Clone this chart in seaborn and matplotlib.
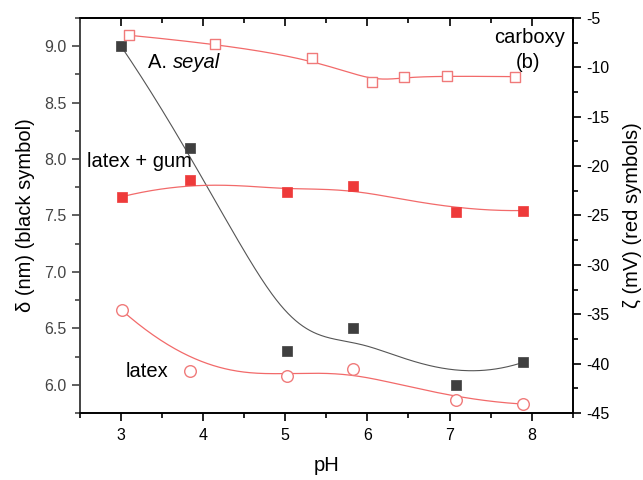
import numpy as np
import matplotlib
matplotlib.use("Agg")
import matplotlib.pyplot as plt
import seaborn as sns
from matplotlib.ticker import MultipleLocator

sns.set_style("ticks")
plt.rcParams['font.family'] = ['Liberation Sans', 'DejaVu Sans']
plt.rcParams['axes.unicode_minus'] = False
plt.rcParams['text.color'] = 'black'
plt.rcParams['axes.labelcolor'] = 'black'

# ---- data ----
ph_black = [3.0, 3.84, 5.02, 5.82, 7.08, 7.90]
delta_nm = [9.0, 8.10, 6.30, 6.50, 6.00, 6.20]

ph_gum = [3.01, 3.84, 5.02, 5.82, 7.08, 7.90]
zeta_gum = [-23.1, -21.4, -22.6, -22.0, -24.6, -24.5]

ph_latex = [3.01, 3.84, 5.02, 5.82, 7.08, 7.90]
zeta_latex = [-34.6, -40.7, -41.3, -40.5, -43.7, -44.1]

ph_carb = [3.10, 4.15, 5.32, 6.06, 6.45, 6.97, 7.80]
zeta_carb = [-6.75, -7.6, -9.05, -11.5, -10.97, -10.87, -10.94]


def bspline(xs, ys, n=300, k=3):
    P = np.column_stack([xs, ys]).astype(float)
    m = len(P)
    kk = min(k, m - 1)
    inner = np.arange(1, m - kk)
    knots = np.concatenate([np.zeros(kk + 1), inner, np.full(kk + 1, m - kk)]).astype(float)
    ts = np.linspace(0, m - kk, n)
    out = []
    for t in ts:
        t = min(t, knots[-1] - 1e-9)
        N = np.array([1.0 if knots[i] <= t < knots[i + 1] else 0.0 for i in range(len(knots) - 1)])
        for d in range(1, kk + 1):
            Nn = np.zeros(len(knots) - 1 - d)
            for i in range(len(Nn)):
                a = 0.0
                if knots[i + d] != knots[i]:
                    a = (t - knots[i]) / (knots[i + d] - knots[i]) * N[i]
                b = 0.0
                if knots[i + d + 1] != knots[i + 1]:
                    b = (knots[i + d + 1] - t) / (knots[i + d + 1] - knots[i + 1]) * N[i + 1]
                Nn[i] = a + b
            N = Nn
        out.append(N @ P)
    out = np.array(out)
    return out[:, 0], out[:, 1]


fig = plt.figure(figsize=(6.43, 4.8), dpi=100)
ax = fig.add_axes([0.1244, 0.1396, 0.7663, 0.8229])
ax2 = ax.twinx()

black = '#3f3f3f'
red_fill = '#ee3a3a'
red_line = '#f26a6a'
red_open = '#f07a7a'

# black series (left axis)
bx, by = bspline(ph_black, delta_nm)
sns.lineplot(x=bx, y=by, ax=ax, color='#555555', lw=0.8, sort=False, estimator=None)
sns.scatterplot(x=ph_black, y=delta_nm, ax=ax, marker='s', s=50, color=black, edgecolor=black, linewidth=0.5, zorder=5)

# red series (right axis)
for xs, ys, filled, mk in [(ph_gum, zeta_gum, True, 's'),
                           (ph_latex, zeta_latex, False, 'o'),
                           (ph_carb, zeta_carb, False, 's')]:
    cx, cy = bspline(xs, ys)
    sns.lineplot(x=cx, y=cy, ax=ax2, color=red_line, lw=0.9, sort=False, estimator=None)
    if filled:
        sns.scatterplot(x=xs, y=ys, ax=ax2, marker=mk, s=50, color=red_fill, edgecolor=red_fill, linewidth=0.5, zorder=5)
    else:
        sns.scatterplot(x=xs, y=ys, ax=ax2, marker=mk, s=70 if mk == 'o' else 55, facecolor='white',
                        edgecolor=red_open, linewidth=1.0, zorder=5)

ax.set_xlim(2.5, 8.5)
ax.set_ylim(5.75, 9.25)
ax2.set_ylim(-45, -5)

ax.xaxis.set_major_locator(MultipleLocator(1))
ax.xaxis.set_minor_locator(MultipleLocator(0.5))
ax.yaxis.set_minor_locator(MultipleLocator(0.25))
ax2.yaxis.set_major_locator(MultipleLocator(5))
ax2.yaxis.set_minor_locator(MultipleLocator(2.5))
ax.set_yticks([6.0, 6.5, 7.0, 7.5, 8.0, 8.5, 9.0])
ax.set_yticklabels(['6.0', '6.5', '7.0', '7.5', '8.0', '8.5', '9.0'])

ax.tick_params(axis='x', which='both', direction='out', labelsize=11.5, colors='black', width=1.2, pad=5)
ax.tick_params(axis='x', which='major', length=6)
ax.tick_params(axis='x', which='minor', length=3.5)
ax.tick_params(axis='y', which='both', direction='out', labelsize=11.5, colors='#444444', width=1.2)
ax.tick_params(axis='y', which='major', length=6)
ax.tick_params(axis='y', which='minor', length=3.5)
ax2.tick_params(axis='y', which='both', direction='out', labelsize=11.5, colors='black', width=1.2)
ax2.tick_params(axis='y', which='major', length=6)
ax2.tick_params(axis='y', which='minor', length=3.5)

# top axis: inward ticks, no labels
top = ax.secondary_xaxis('top')
top.xaxis.set_major_locator(MultipleLocator(1))
top.xaxis.set_minor_locator(MultipleLocator(0.5))
top.tick_params(axis='x', which='both', direction='in', labeltop=False, width=1.2, colors='black')
top.tick_params(axis='x', which='major', length=6)
top.tick_params(axis='x', which='minor', length=3.5)
top.spines['top'].set_linewidth(1.2)

for s in ['top', 'bottom', 'left', 'right']:
    ax.spines[s].set_linewidth(1.2)
    ax2.spines[s].set_linewidth(1.2)
    ax.spines[s].set_color('black')
    ax2.spines[s].set_color('black')
ax.spines['left'].set_color('#444444')
ax2.spines['left'].set_color('#444444')

fs = 14.5
ax.set_xlabel('pH', fontsize=fs, labelpad=9)
ax.set_ylabel('δ (nm) (black symbol)', fontsize=fs, labelpad=7)
ax2.set_ylabel('ζ (mV) (red symbols)', fontsize=fs, labelpad=10)

t1 = ax.text(3.33, 8.86, 'A. ', fontsize=fs, va='center', ha='left')
ax.annotate('seyal', xy=(1, 0.5), xycoords=t1, fontsize=fs, va='center', ha='left', style='italic')
ax.text(7.97, 9.08, 'carboxy', fontsize=fs, ha='center', va='center')
ax.text(7.96, 8.86, '(b)', fontsize=fs, ha='center', va='center')
ax.text(2.58, 7.98, 'latex + gum', fontsize=fs, ha='left', va='center')
ax.text(3.06, 6.12, 'latex', fontsize=fs, ha='left', va='center')

fig.savefig('out.png', dpi=100)
